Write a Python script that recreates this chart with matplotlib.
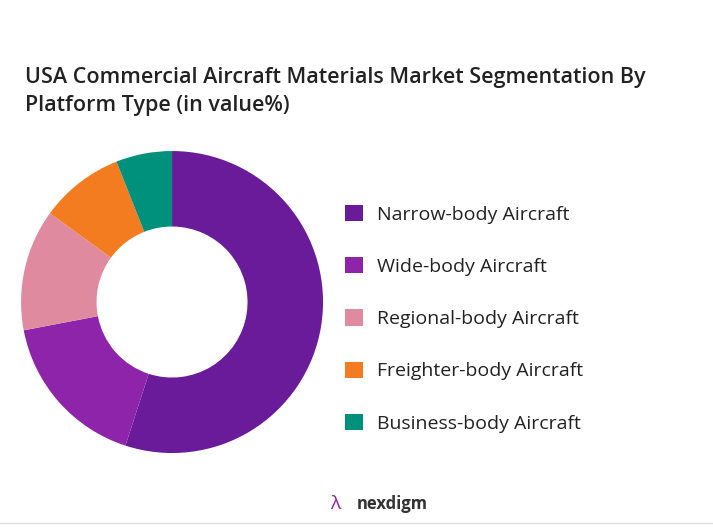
import matplotlib.pyplot as plt
from matplotlib.patches import Patch

segments = ['Narrow-body Aircraft', 'Wide-body Aircraft', 'Regional-body Aircraft',
            'Freighter-body Aircraft', 'Business-body Aircraft']
shares = [55, 17, 13, 9, 6]
colors = ['#6A1B9A', '#8E24AA', '#E08AA0', '#F47C20', '#00917C']

plt.rcParams['font.family'] = ['Open Sans', 'DejaVu Sans']

fig = plt.figure(figsize=(7.13, 5.27), dpi=100)
ax = fig.add_axes([0.0295, 0.1404, 0.4236, 0.573])
ax.pie(shares, colors=colors, startangle=90, counterclock=False,
       wedgeprops=dict(width=0.5, edgecolor='none'))
ax.set_xlim(-1, 1)
ax.set_ylim(-1, 1)
ax.set_aspect('equal')

fig.text(0.035, 0.78, 'USA Commercial Aircraft Materials Market Segmentation By\nPlatform Type (in value%)',
         fontsize=15.5, color='#222222', va='bottom', linespacing=1.45, fontweight='semibold')

handles = [Patch(facecolor=c) for c in colors]
fig.legend(handles, segments, loc='center left', bbox_to_anchor=(0.46, 0.395),
           frameon=False, fontsize=14, labelspacing=1.72, handlelength=0.9,
           handleheight=0.9, handletextpad=0.7, labelcolor='#222222')

fig.text(0.5, 0.035, 'nexdigm', fontsize=12, color='#333333', ha='left', fontweight='bold')
fig.text(0.47, 0.035, '\u03bb', fontsize=14, color='#8E24AA', ha='center')
fig.add_artist(plt.Line2D([0, 1], [0.008, 0.008], color='#dddddd', lw=1))

fig.savefig('out.png', dpi=100)
